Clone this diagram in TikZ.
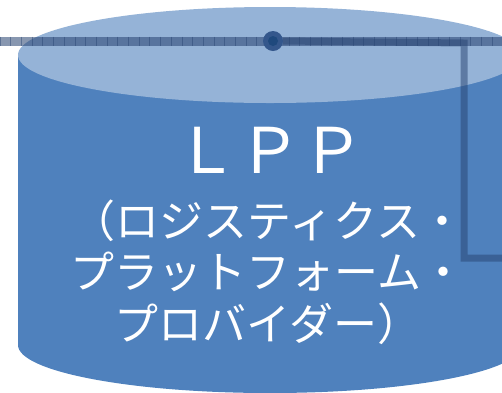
\documentclass[tikz,border=0pt]{standalone}
\usepackage{fontspec}
\newfontfamily\jpfont{Noto Sans CJK JP}
\usepackage{tikz}
\usetikzlibrary{positioning}

\definecolor{lppside}{RGB}{79,129,189}
\definecolor{lpptop}{RGB}{149,179,215}
\definecolor{busblue}{RGB}{38,66,112}
\definecolor{hubouter}{RGB}{52,87,140}
\definecolor{hubinner}{RGB}{31,73,125}

\tikzset{
  bus/.style={fill=busblue, fill opacity=0.55},
  tick/.style={draw=busblue, draw opacity=0.45, line width=0.7pt},
  link/.style={draw=busblue, draw opacity=0.5, line width=7pt},
  hubdot/.style={circle, fill=hubouter, inner sep=0pt, minimum size=20pt},
  hubcore/.style={circle, fill=hubinner, inner sep=0pt, minimum size=10pt},
  bigtext/.style={text=white, font=\jpfont\fontsize{63}{63}\selectfont},
  subtext/.style={text=white, align=center, font=\jpfont\fontsize{44}{51.5}\selectfont}
}

\begin{document}
\begin{tikzpicture}[x=1pt, y=-1pt]
  \useasboundingbox (0,0) rectangle (502,392);

  % cylinder
  \fill[lppside] (18,55) -- (18,345) arc[start angle=180, end angle=360, x radius=252, y radius=-48]
                 -- (522,55) -- cycle;
  \fill[lpptop] (270,55) ellipse[x radius=252, y radius=48];

  % bus line
  \coordinate (busL) at (0,41);
  \coordinate (busR) at (502,41);
  \fill[bus] (0,36.5) rectangle (502,45.5);
  \foreach \x in {0,10.7,...,502}
    \draw[tick] (\x,36.5) -- (\x,45.5);

  % hub and link
  \node[hubdot] (hub) at (273,41) {};
  \node[hubcore] (core) at (hub) {};
  \coordinate (turn) at (464,43);
  \coordinate (exit) at (502,258);
  \draw[link] (hub.east) -- (turn) |- (exit);

  % labels
  \node[bigtext] (lpp) at (270,150) {ＬＰＰ};
  \node[subtext] (name) at (268,272) {（ロジスティクス・\\プラットフォーム・\\プロバイダー）};
\end{tikzpicture}
\end{document}
